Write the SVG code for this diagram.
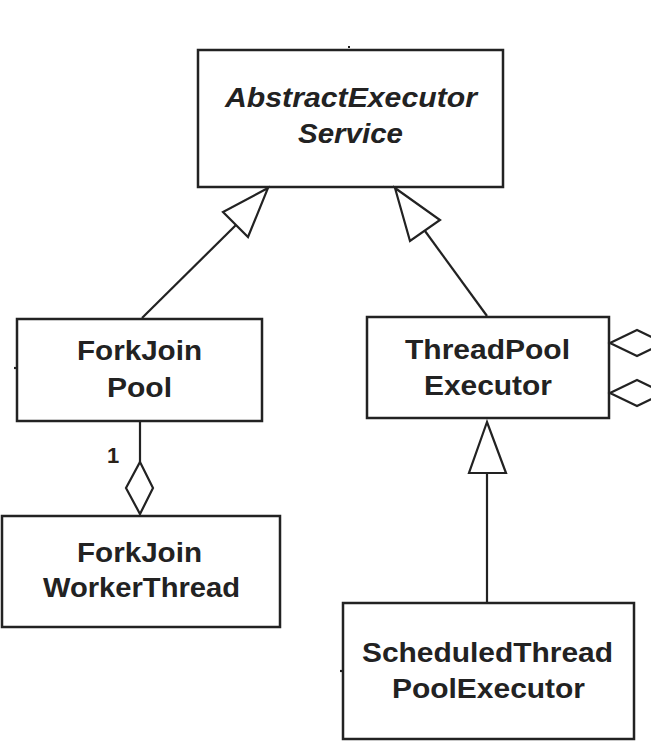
<svg xmlns="http://www.w3.org/2000/svg" width="651" height="747" viewBox="0 0 651 747">
<style>
.box{fill:#fff;stroke:#222;stroke-width:2.5}
.t{font-family:"Liberation Sans",Arial,sans-serif;font-weight:bold;font-size:27px;fill:#222;text-anchor:start}
.it{font-style:italic}
.ln{fill:none;stroke:#222;stroke-width:2.2}
.hd{fill:#fff;stroke:#222;stroke-width:2.2;stroke-linejoin:miter}
.lbl{font-family:"Liberation Sans",Arial,sans-serif;font-weight:bold;font-size:22px;fill:#2a2218}
</style>
<rect width="651" height="747" fill="#fff"/>
<g id="AbstractExecutorService">
<rect class="box" x="198" y="50" width="305" height="137"/>
<text class="t it" x="225" y="107" textLength="252" lengthAdjust="spacingAndGlyphs">AbstractExecutor</text>
<text class="t it" x="298" y="143" textLength="105" lengthAdjust="spacingAndGlyphs">Service</text>
</g>
<g id="ForkJoinPool">
<rect class="box" x="17" y="319" width="245" height="102"/>
<text class="t" x="77" y="360" textLength="125" lengthAdjust="spacingAndGlyphs">ForkJoin</text>
<text class="t" x="107" y="397" textLength="65" lengthAdjust="spacingAndGlyphs">Pool</text>
</g>
<g id="ThreadPoolExecutor">
<rect class="box" x="367" y="317" width="242" height="101"/>
<text class="t" x="405" y="359" textLength="165" lengthAdjust="spacingAndGlyphs">ThreadPool</text>
<text class="t" x="424" y="395" textLength="128" lengthAdjust="spacingAndGlyphs">Executor</text>
</g>
<g id="ForkJoinWorkerThread">
<rect class="box" x="2" y="516" width="278" height="111"/>
<text class="t" x="77" y="562" textLength="125" lengthAdjust="spacingAndGlyphs">ForkJoin</text>
<text class="t" x="43" y="597" textLength="197" lengthAdjust="spacingAndGlyphs">WorkerThread</text>
</g>
<g id="ScheduledThreadPoolExecutor">
<rect class="box" x="343" y="603" width="291" height="136"/>
<text class="t" x="362" y="662" textLength="251" lengthAdjust="spacingAndGlyphs">ScheduledThread</text>
<text class="t" x="392" y="698" textLength="193" lengthAdjust="spacingAndGlyphs">PoolExecutor</text>
</g>
<g id="connectors">
<line class="ln" x1="142" y1="318" x2="236" y2="225"/>
<polygon class="hd" points="268,188 223,212 248,237"/>
<line class="ln" x1="487" y1="316" x2="425" y2="231"/>
<polygon class="hd" points="395,188 440,220 410,241"/>
<line class="ln" x1="487" y1="603" x2="487" y2="473"/>
<polygon class="hd" points="487,422 469,473 506,473"/>
<line class="ln" x1="140" y1="421" x2="140" y2="462"/>
<polygon class="hd" points="140,462 153,488 140,514 126,488"/>
<text class="lbl" x="107" y="463">1</text>
<polygon class="hd" points="610,343 637,330 664,343 637,356"/>
<polygon class="hd" points="610,393 637,380 664,393 637,406"/>
<line class="ln" x1="348" y1="47" x2="350" y2="47"/>
<line class="ln" x1="14" y1="368" x2="17" y2="368"/>
<line class="ln" x1="340" y1="671" x2="343" y2="671"/>
</g>
</svg>
